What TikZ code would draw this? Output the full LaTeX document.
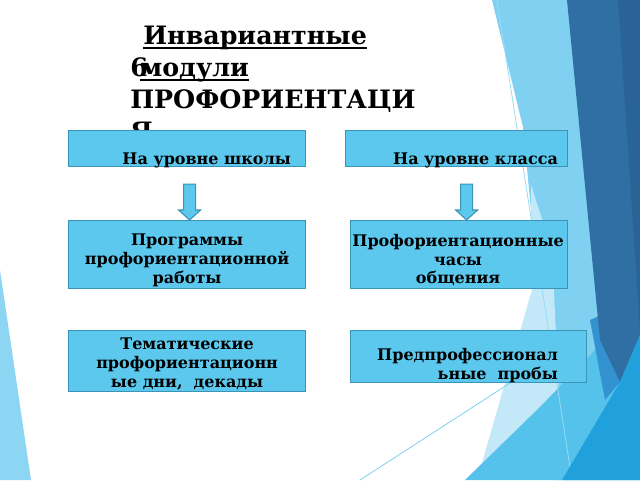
\documentclass[tikz,border=0pt]{standalone}
\usepackage{fontspec}
\setmainfont{DejaVu Serif}
\usetikzlibrary{calc}
\definecolor{nen}{HTML}{5CC8EE}
\definecolor{vien}{HTML}{3C93B8}
\definecolor{xanhnhat}{HTML}{80D1F1}
\definecolor{xanhmo}{HTML}{C3E8F8}
\definecolor{xanhvua}{HTML}{55C2EB}
\definecolor{xanhtoi}{HTML}{2F6FA4}
\definecolor{xanhdam}{HTML}{2A6496}
\definecolor{xanhgiua}{HTML}{3592D1}
\definecolor{xanhsang}{HTML}{21A1DB}
\newcommand{\gach}[1]{\setbox0\hbox{#1}\rlap{\rule[-3.6pt]{\wd0}{1.4pt}}\box0}
\newcommand{\muiten}[3]{%
	\path[muiten] let \p1=($(#1.south)+(#3,17)$), \p2=(#2.north) in
	(\x1-4.5pt,\y1) -- (\x1+4.5pt,\y1) -- (\x1+4.5pt,\y2+7.5pt) -- (\x1+8.25pt,\y2+7.5pt)
	-- (\x1,\y2) -- (\x1-8.25pt,\y2+7.5pt) -- (\x1-4.5pt,\y2+7.5pt) -- cycle;}
\begin{document}
\begin{tikzpicture}[x=0.75pt,y=-0.75pt,
	hop/.style={draw=vien,fill=nen,line width=0.9pt,inner sep=0pt,anchor=north west},
	chu/.style={font=\bfseries\fontsize{12}{14}\selectfont,inner sep=0pt,align=center},
	muiten/.style={draw=vien,fill=nen,line width=0.8pt,line join=miter}]
	\useasboundingbox (0,0) rectangle (640,480);
	\fill[white] (0,0) rectangle (640,480);
	% nen ben phai
	\fill[xanhnhat] (492,0) -- (600,0) -- (640,480) -- (555,480) -- (532,220) -- (523,127) -- cycle;
	\fill[xanhmo] (531,185) -- (552,250) -- (560,420) -- (480,470) -- (505,383) -- (532,290) -- cycle;
	\draw[color=xanhnhat,line width=0.6pt] (360,480) -- (640,299);
	\fill[xanhvua] (465,480) -- (540,407) -- (600,345) -- (640,330) -- (640,480) -- cycle;
	\draw[color=xanhnhat!80,line width=0.6pt] (497,0) -- (572,480);
	\fill[xanhgiua] (590,320) -- (612,310) -- (620,382) -- (605,400) -- cycle;
	\fill[xanhtoi] (567,0) -- (640,0) -- (640,335) -- (620,382) -- (600,340) -- cycle;
	\fill[xanhdam] (618,0) -- (640,0) -- (640,330) -- cycle;
	\fill[xanhsang] (620,382) -- (640,335) -- (640,480) -- (562,480) -- cycle;
	\fill[xanhnhat!90] (0,270) -- (31,480) -- (0,480) -- cycle; % nen ben trai
	% tieu de
	\node[font=\bfseries\fontsize{19}{24}\selectfont,inner sep=0pt,align=left,anchor=north west] (tde) at (130,25.5)
	{\hspace*{9.75pt}\gach{Инвариантные}\\ \rlap{6}\hspace*{7.5pt}\gach{модули}\\ ПРОФОРИЕНТАЦИ\\ Я};
	% cac khoi
	\node[hop,minimum width=177.75pt,minimum height=27pt] (truong) at (68,130) {};
	\node[hop,minimum width=166.5pt,minimum height=27pt] (lop) at (345,130) {};
	\node[hop,minimum width=177.75pt,minimum height=51pt] (chuongtrinh) at (68,220) {};
	\node[hop,minimum width=162.75pt,minimum height=51pt] (gio) at (350,220) {};
	\node[hop,minimum width=177.75pt,minimum height=45.75pt] (ngay) at (68,330) {};
	\node[hop,minimum width=177pt,minimum height=39pt] (thu) at (350,330) {};
	\node[chu,anchor=base east] (ttruong) at ([shift={(-15,-3)}]truong.south east) {На уровне школы};
	\node[chu,anchor=base east] (tlop) at ([shift={(-10,-3)}]lop.south east) {На уровне класса};
	\node[chu,anchor=north] (tchuongtrinh) at ([shift={(0,14)}]chuongtrinh.north) {Программы\\профориентационной\\работы};
	\node[chu,anchor=north] (tgio) at ([shift={(-1,14)}]gio.north) {Профориентационные\\часы\\общения};
	\node[chu,anchor=north] (tngay) at ([shift={(0,8)}]ngay.north) {Тематические\\профориентационн\\ые дни,~~декады};
	\node[chu,anchor=north east,align=right] (tthu) at ([shift={(-29,18)}]thu.north east) {Предпрофессионал\\ьные~~пробы};
	% mui ten
	\muiten{truong}{chuongtrinh}{2.5}
	\muiten{lop}{gio}{10}
\end{tikzpicture}
\end{document}
